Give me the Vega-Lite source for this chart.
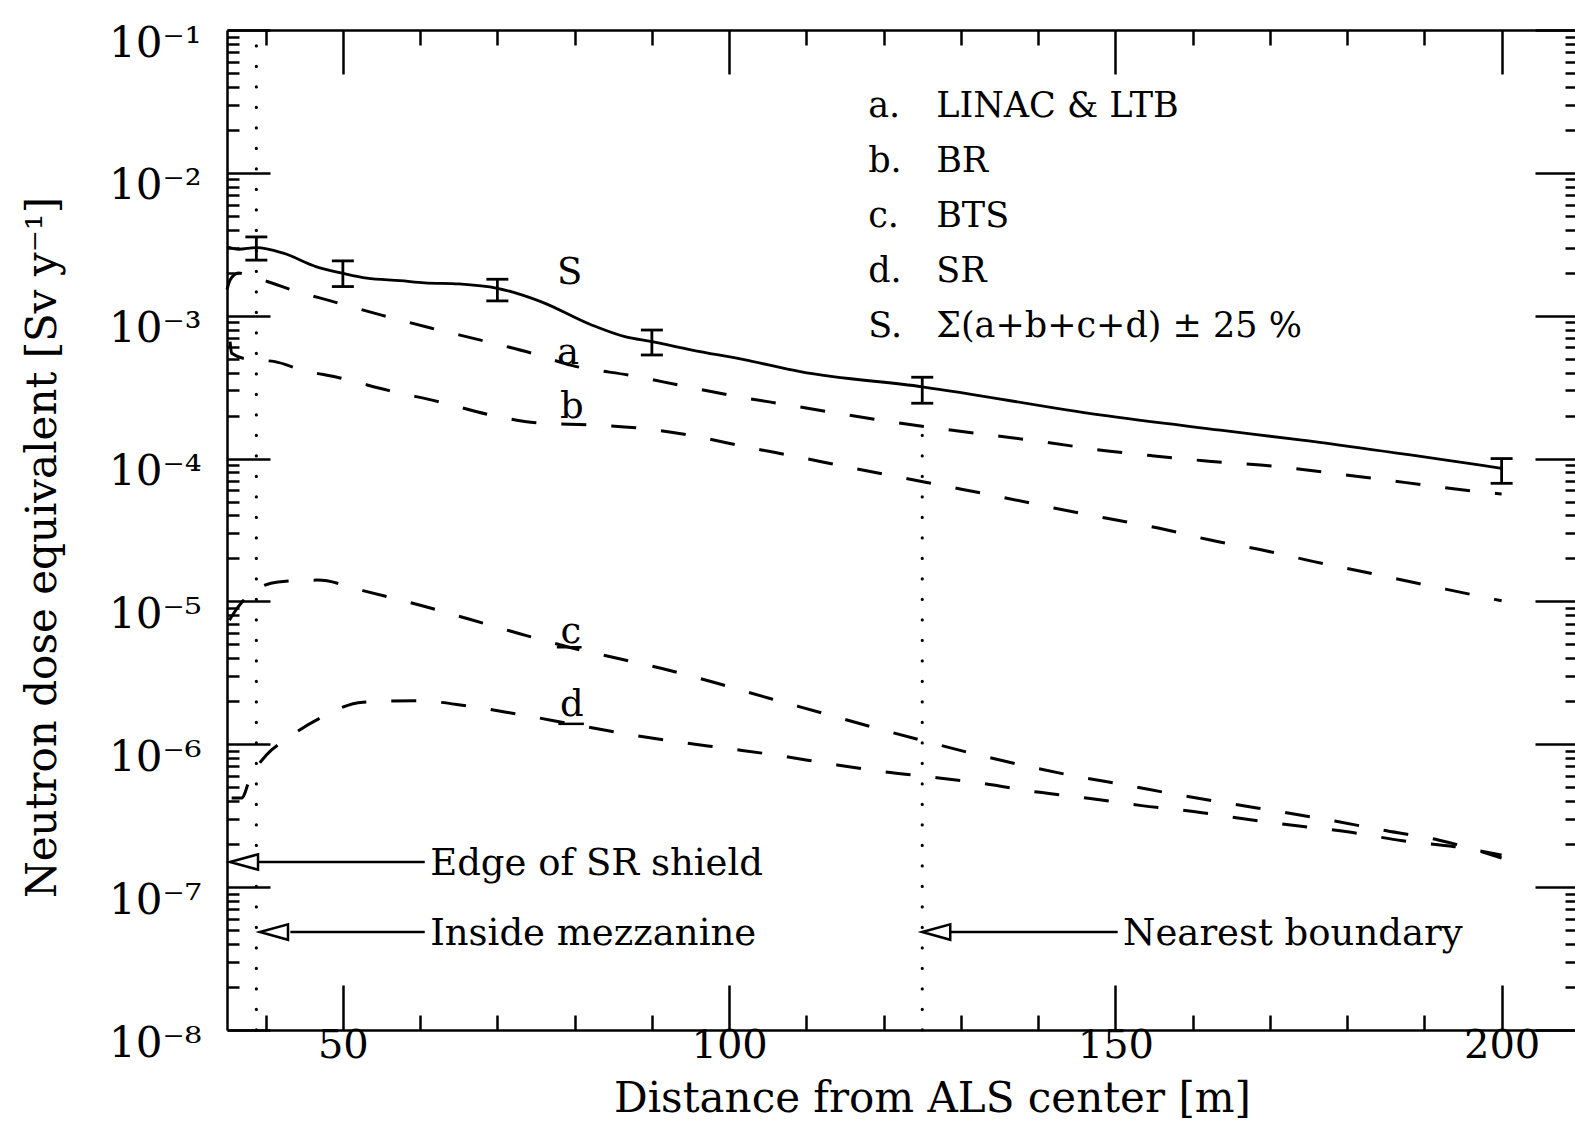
{
  "$schema": "https://vega.github.io/schema/vega-lite/v6.json",
  "width": 1348,
  "height": 1000,
  "autosize": {"type": "none"},
  "padding": {"left": 227, "top": 30, "right": 0, "bottom": 118},
  "background": "white",
  "config": {
    "view": {"stroke": null},
    "font": "DejaVu Serif",
    "axis": {
      "grid": false,
      "domainColor": "black",
      "tickColor": "black",
      "labelColor": "black",
      "titleColor": "black",
      "labelFont": "DejaVu Serif",
      "titleFont": "DejaVu Serif",
      "titleFontWeight": "normal",
      "domainWidth": 2.5,
      "tickWidth": 2.5,
      "labelFlush": false,
      "labelOverlap": false
    }
  },
  "datasets": {
    "S": [
      {"x": 35.0, "y": 0.00304}, {"x": 36.5, "y": 0.00292}, {"x": 38.8, "y": 0.0030},
      {"x": 42.3, "y": 0.00274}, {"x": 46.6, "y": 0.00220}, {"x": 50.0, "y": 0.00198},
      {"x": 53.1, "y": 0.00183}, {"x": 57.4, "y": 0.00176}, {"x": 60.6, "y": 0.00170},
      {"x": 65.0, "y": 0.00167}, {"x": 70.0, "y": 0.001556}, {"x": 75.7, "y": 0.00125},
      {"x": 82.2, "y": 0.000861}, {"x": 86.5, "y": 0.000713}, {"x": 90.0, "y": 0.000658},
      {"x": 95.2, "y": 0.000575}, {"x": 102.1, "y": 0.000490}, {"x": 109.2, "y": 0.000406},
      {"x": 125.0, "y": 0.000318}, {"x": 148.0, "y": 0.000202}, {"x": 163.6, "y": 0.000158},
      {"x": 173.9, "y": 0.000135}, {"x": 200.0, "y": 0.0000855}
    ],
    "curves": [
      {"series": "a", "x": 35.0, "y": 0.00152}, {"series": "a", "x": 35.4, "y": 0.00178},
      {"series": "a", "x": 36.5, "y": 0.00199}, {"series": "a", "x": 38.0, "y": 0.00188},
      {"series": "a", "x": 40.3, "y": 0.00173}, {"series": "a", "x": 43.5, "y": 0.00151},
      {"series": "a", "x": 48.4, "y": 0.00127}, {"series": "a", "x": 55.0, "y": 0.00101},
      {"series": "a", "x": 61.5, "y": 0.000817}, {"series": "a", "x": 68.1, "y": 0.000669},
      {"series": "a", "x": 74.5, "y": 0.000546}, {"series": "a", "x": 79.6, "y": 0.000449},
      {"series": "a", "x": 87.6, "y": 0.000379}, {"series": "a", "x": 94.2, "y": 0.000321},
      {"series": "a", "x": 101.0, "y": 0.000272}, {"series": "a", "x": 107.5, "y": 0.000238},
      {"series": "a", "x": 114.2, "y": 0.000207}, {"series": "a", "x": 121.0, "y": 0.000181},
      {"series": "a", "x": 127.7, "y": 0.000161}, {"series": "a", "x": 134.3, "y": 0.000145},
      {"series": "a", "x": 141.1, "y": 0.000130}, {"series": "a", "x": 147.9, "y": 0.000115},
      {"series": "a", "x": 154.6, "y": 0.000105}, {"series": "a", "x": 161.4, "y": 0.0000966},
      {"series": "a", "x": 168.8, "y": 0.0000901}, {"series": "a", "x": 181.7, "y": 0.0000747},
      {"series": "a", "x": 195.1, "y": 0.0000603}, {"series": "a", "x": 200.0, "y": 0.0000565},

      {"series": "b", "x": 35.4, "y": 0.000658}, {"series": "b", "x": 35.6, "y": 0.000546},
      {"series": "b", "x": 37.8, "y": 0.000495}, {"series": "b", "x": 41.2, "y": 0.000477},
      {"series": "b", "x": 44.7, "y": 0.000417}, {"series": "b", "x": 49.5, "y": 0.000368},
      {"series": "b", "x": 56.0, "y": 0.000299}, {"series": "b", "x": 62.7, "y": 0.000248},
      {"series": "b", "x": 69.1, "y": 0.000202}, {"series": "b", "x": 75.6, "y": 0.000177},
      {"series": "b", "x": 82.2, "y": 0.000172}, {"series": "b", "x": 89.0, "y": 0.000162},
      {"series": "b", "x": 95.7, "y": 0.000143}, {"series": "b", "x": 102.4, "y": 0.000120},
      {"series": "b", "x": 108.8, "y": 0.000103}, {"series": "b", "x": 115.5, "y": 0.0000869},
      {"series": "b", "x": 122.1, "y": 0.0000740}, {"series": "b", "x": 128.8, "y": 0.0000630},
      {"series": "b", "x": 135.4, "y": 0.0000536}, {"series": "b", "x": 142.2, "y": 0.0000449},
      {"series": "b", "x": 148.9, "y": 0.0000382}, {"series": "b", "x": 155.7, "y": 0.0000325},
      {"series": "b", "x": 162.3, "y": 0.0000269}, {"series": "b", "x": 169.0, "y": 0.0000229},
      {"series": "b", "x": 175.7, "y": 0.0000190}, {"series": "b", "x": 182.4, "y": 0.0000160},
      {"series": "b", "x": 189.1, "y": 0.0000134}, {"series": "b", "x": 195.7, "y": 0.0000113},
      {"series": "b", "x": 200.0, "y": 0.0000101},

      {"series": "c", "x": 35.3, "y": 0.0000074}, {"series": "c", "x": 36.4, "y": 0.0000091},
      {"series": "c", "x": 38.6, "y": 0.0000119}, {"series": "c", "x": 41.6, "y": 0.0000137},
      {"series": "c", "x": 46.7, "y": 0.0000141}, {"series": "c", "x": 52.6, "y": 0.0000119},
      {"series": "c", "x": 59.9, "y": 0.00000944}, {"series": "c", "x": 66.3, "y": 0.00000753},
      {"series": "c", "x": 72.9, "y": 0.00000594}, {"series": "c", "x": 79.3, "y": 0.00000478},
      {"series": "c", "x": 85.8, "y": 0.00000397}, {"series": "c", "x": 92.2, "y": 0.00000330},
      {"series": "c", "x": 98.8, "y": 0.00000264}, {"series": "c", "x": 105.3, "y": 0.00000209},
      {"series": "c", "x": 111.8, "y": 0.00000167}, {"series": "c", "x": 118.3, "y": 0.00000133},
      {"series": "c", "x": 124.8, "y": 0.00000107}, {"series": "c", "x": 131.4, "y": 0.000000865},
      {"series": "c", "x": 138.0, "y": 0.000000713}, {"series": "c", "x": 144.7, "y": 0.000000600},
      {"series": "c", "x": 151.5, "y": 0.000000516}, {"series": "c", "x": 158.2, "y": 0.000000442},
      {"series": "c", "x": 164.9, "y": 0.000000384}, {"series": "c", "x": 171.8, "y": 0.000000334},
      {"series": "c", "x": 178.4, "y": 0.000000290}, {"series": "c", "x": 185.1, "y": 0.000000248},
      {"series": "c", "x": 191.8, "y": 0.000000214}, {"series": "c", "x": 200.0, "y": 0.000000160},

      {"series": "d", "x": 35.6, "y": 0.000000421}, {"series": "d", "x": 36.9, "y": 0.000000421},
      {"series": "d", "x": 38.0, "y": 0.000000581}, {"series": "d", "x": 40.1, "y": 0.000000841},
      {"series": "d", "x": 42.5, "y": 0.00000107}, {"series": "d", "x": 46.8, "y": 0.00000150},
      {"series": "d", "x": 52.6, "y": 0.00000197}, {"series": "d", "x": 59.5, "y": 0.00000202},
      {"series": "d", "x": 66.0, "y": 0.00000186}, {"series": "d", "x": 72.5, "y": 0.00000163},
      {"series": "d", "x": 79.5, "y": 0.00000139}, {"series": "d", "x": 86.3, "y": 0.00000119},
      {"series": "d", "x": 92.8, "y": 0.00000105}, {"series": "d", "x": 99.6, "y": 0.000000937},
      {"series": "d", "x": 106.2, "y": 0.000000838}, {"series": "d", "x": 113.0, "y": 0.000000731},
      {"series": "d", "x": 119.6, "y": 0.000000647}, {"series": "d", "x": 126.4, "y": 0.000000588},
      {"series": "d", "x": 133.0, "y": 0.000000530}, {"series": "d", "x": 139.9, "y": 0.000000463},
      {"series": "d", "x": 146.5, "y": 0.000000419}, {"series": "d", "x": 153.4, "y": 0.000000372},
      {"series": "d", "x": 160.1, "y": 0.000000339}, {"series": "d", "x": 166.8, "y": 0.000000300},
      {"series": "d", "x": 173.5, "y": 0.000000269}, {"series": "d", "x": 180.5, "y": 0.000000242},
      {"series": "d", "x": 187.2, "y": 0.000000211}, {"series": "d", "x": 193.9, "y": 0.000000192},
      {"series": "d", "x": 200.0, "y": 0.000000168}
    ],
    "bars": [
      {"x": 38.8, "lo": 0.00245, "hi": 0.00356},
      {"x": 50.0, "lo": 0.00160, "hi": 0.00242},
      {"x": 70.0, "lo": 0.00127, "hi": 0.00180},
      {"x": 90.0, "lo": 0.000531, "hi": 0.000794},
      {"x": 125.0, "lo": 0.000244, "hi": 0.000371},
      {"x": 200.0, "lo": 0.0000671, "hi": 0.000100}
    ],
    "vlines": [
      {"x": 38.8, "y": 1e-8, "y2": 0.1},
      {"x": 125.0, "y": 1e-8, "y2": 0.00018}
    ],
    "arrows": [
      {"x": 39.0, "x2": 60.6, "y": 1.5e-7},
      {"x": 43.2, "x2": 60.6, "y": 4.85e-8},
      {"x": 128.6, "x2": 150.3, "y": 4.85e-8}
    ],
    "heads": [
      {"x": 35.39, "y": 1.5e-7},
      {"x": 39.27, "y": 4.85e-8},
      {"x": 125.0, "y": 4.85e-8}
    ],
    "notes": [
      {"x": 61.3, "y": 1.45e-7, "text": "Edge of SR shield"},
      {"x": 61.3, "y": 4.7e-8, "text": "Inside mezzanine"},
      {"x": 151.0, "y": 4.7e-8, "text": "Nearest boundary"}
    ],
    "legend": [
      {"x": 118.0, "y": 0.0296, "text": "a."},
      {"x": 118.0, "y": 0.0122, "text": "b."},
      {"x": 118.0, "y": 0.00499, "text": "c."},
      {"x": 118.0, "y": 0.00206, "text": "d."},
      {"x": 118.0, "y": 0.000841, "text": "S."},
      {"x": 126.8, "y": 0.0296, "text": "LINAC & LTB"},
      {"x": 126.8, "y": 0.0122, "text": "BR"},
      {"x": 126.8, "y": 0.00499, "text": "BTS"},
      {"x": 126.8, "y": 0.00206, "text": "SR"},
      {"x": 126.8, "y": 0.000841, "text": "Σ(a+b+c+d) ± 25 %"}
    ],
    "clabels": [
      {"x": 79.35, "y": 0.00199, "text": "S"},
      {"x": 79.15, "y": 0.000548, "text": "a"},
      {"x": 79.65, "y": 0.00023, "text": "b"},
      {"x": 79.5, "y": 0.0000061, "text": "c"},
      {"x": 79.65, "y": 0.00000188, "text": "d"}
    ],
    "underlines": [
      {"x": 77.7, "x2": 80.9, "y": 0.00000478},
      {"x": 77.9, "x2": 81.2, "y": 0.00000139}
    ]
  },
  "resolve": {"axis": {"x": "independent", "y": "independent"}},
  "layer": [
    {
      "data": {"name": "S"},
      "mark": {"type": "line", "color": "black", "strokeWidth": 2.8, "interpolate": "monotone"},
      "encoding": {
        "x": {
          "field": "x", "type": "quantitative",
          "scale": {"domain": [35, 209.5], "nice": false, "zero": false},
          "axis": {
            "orient": "bottom", "values": [50, 100, 150, 200], "ticks": false, "domain": true,
            "labelFontSize": 40, "labelPadding": -5,
            "title": "Distance from ALS center [m]", "titleFontSize": 42,
            "titleX": 705, "titleY": 68, "titleBaseline": "middle", "titleAlign": "center"
          }
        },
        "y": {
          "field": "y", "type": "quantitative",
          "scale": {"type": "log", "domain": [1e-8, 0.1], "nice": false},
          "axis": {
            "orient": "left", "values": [1e-8, 1e-7, 1e-6, 1e-5, 1e-4, 1e-3, 1e-2, 1e-1],
            "ticks": false, "domain": true,
            "labelExpr": "'10⁻' + ['⁰','¹','²','³','⁴','⁵','⁶','⁷','⁸','⁹'][round(-log(datum.value)/LN10)]",
            "labelFontSize": 42, "labelPadding": 26, "labelBaseline": "middle", "labelOffset": 13,
            "title": "Neutron dose equivalent [Sv y⁻¹]", "titleFontSize": 42,
            "titleX": -185, "titleY": 517, "titleAngle": -90, "titleBaseline": "middle", "titleAlign": "center"
          }
        }
      }
    },
    {
      "data": {"name": "curves"},
      "mark": {"type": "line", "color": "black", "strokeWidth": 3, "strokeDash": [25, 25], "interpolate": "monotone"},
      "encoding": {
        "detail": {"field": "series"},
        "x": {
          "field": "x", "type": "quantitative",
          "axis": {"orient": "bottom", "values": [50, 100, 150, 200], "labels": false, "domain": false, "tickSize": -45, "title": null}
        },
        "y": {
          "field": "y", "type": "quantitative",
          "axis": {"orient": "left", "values": [1e-8, 1e-7, 1e-6, 1e-5, 1e-4, 1e-3, 1e-2, 1e-1], "labels": false, "domain": false, "tickSize": -43, "title": null}
        }
      }
    },
    {
      "data": {"name": "bars"},
      "mark": {"type": "errorbar", "color": "black", "opacity": 1, "ticks": {"size": 22, "thickness": 2.8, "color": "black", "opacity": 1}, "rule": {"strokeWidth": 2.8, "color": "black", "opacity": 1}},
      "encoding": {
        "x": {"field": "x", "type": "quantitative", "axis": null},
        "y": {"field": "lo", "type": "quantitative", "axis": null},
        "y2": {"field": "hi"}
      }
    },
    {
      "data": {"name": "vlines"},
      "mark": {"type": "rule", "color": "black", "strokeWidth": 3.2, "strokeDash": [0.1, 20.4], "strokeCap": "round"},
      "encoding": {
        "x": {
          "field": "x", "type": "quantitative",
          "axis": {"orient": "top", "values": [50, 100, 150, 200], "labels": false, "domain": true, "tickSize": -44, "title": null}
        },
        "y": {
          "field": "y", "type": "quantitative",
          "axis": {"orient": "right", "values": [1e-8, 1e-7, 1e-6, 1e-5, 1e-4, 1e-3, 1e-2, 1e-1], "labels": false, "domain": false, "tickSize": -40, "title": null}
        },
        "y2": {"field": "y2"}
      }
    },
    {
      "data": {"name": "arrows"},
      "mark": {"type": "rule", "color": "black", "strokeWidth": 2.5},
      "encoding": {
        "x": {
          "field": "x", "type": "quantitative",
          "axis": {"orient": "top", "values": [40, 60, 70, 80, 90, 110, 120, 130, 140, 160, 170, 180, 190], "labels": false, "domain": false, "tickSize": -15, "title": null}
        },
        "x2": {"field": "x2"},
        "y": {
          "field": "y", "type": "quantitative",
          "axis": {"orient": "right", "values": [2e-8,3e-8,4e-8,5e-8,6e-8,7e-8,8e-8,9e-8,2e-7,3e-7,4e-7,5e-7,6e-7,7e-7,8e-7,9e-7,2e-6,3e-6,4e-6,5e-6,6e-6,7e-6,8e-6,9e-6,2e-5,3e-5,4e-5,5e-5,6e-5,7e-5,8e-5,9e-5,2e-4,3e-4,4e-4,5e-4,6e-4,7e-4,8e-4,9e-4,2e-3,3e-3,4e-3,5e-3,6e-3,7e-3,8e-3,9e-3,2e-2,3e-2,4e-2,5e-2,6e-2,7e-2,8e-2,9e-2], "labels": false, "domain": false, "tickSize": -10, "title": null}
        }
      }
    },
    {
      "data": {"name": "heads"},
      "mark": {"type": "point", "shape": "M0,0 L2,-0.55 L2,0.55 Z", "size": 784, "filled": true, "fill": "white", "stroke": "black", "strokeWidth": 2.5, "opacity": 1},
      "encoding": {
        "x": {
          "field": "x", "type": "quantitative",
          "axis": {"orient": "bottom", "values": [40, 60, 70, 80, 90, 110, 120, 130, 140, 160, 170, 180, 190], "labels": false, "domain": false, "tickSize": -15, "title": null}
        },
        "y": {
          "field": "y", "type": "quantitative",
          "axis": {"orient": "left", "values": [2e-8,3e-8,4e-8,5e-8,6e-8,7e-8,8e-8,9e-8,2e-7,3e-7,4e-7,5e-7,6e-7,7e-7,8e-7,9e-7,2e-6,3e-6,4e-6,5e-6,6e-6,7e-6,8e-6,9e-6,2e-5,3e-5,4e-5,5e-5,6e-5,7e-5,8e-5,9e-5,2e-4,3e-4,4e-4,5e-4,6e-4,7e-4,8e-4,9e-4,2e-3,3e-3,4e-3,5e-3,6e-3,7e-3,8e-3,9e-3,2e-2,3e-2,4e-2,5e-2,6e-2,7e-2,8e-2,9e-2], "labels": false, "domain": false, "tickSize": -12, "title": null}
        }
      }
    },
    {
      "data": {"name": "notes"},
      "mark": {"type": "text", "align": "left", "baseline": "middle", "font": "DejaVu Serif", "fontSize": 37, "color": "black"},
      "encoding": {
        "x": {"field": "x", "type": "quantitative", "axis": null},
        "y": {"field": "y", "type": "quantitative", "axis": null},
        "text": {"field": "text"}
      }
    },
    {
      "data": {"name": "legend"},
      "mark": {"type": "text", "align": "left", "baseline": "middle", "font": "DejaVu Serif", "fontSize": 35, "color": "black"},
      "encoding": {
        "x": {"field": "x", "type": "quantitative", "axis": null},
        "y": {"field": "y", "type": "quantitative", "axis": null},
        "text": {"field": "text"}
      }
    },
    {
      "data": {"name": "clabels"},
      "mark": {"type": "text", "align": "center", "baseline": "middle", "font": "DejaVu Serif", "fontSize": 37, "color": "black"},
      "encoding": {
        "x": {"field": "x", "type": "quantitative", "axis": null},
        "y": {"field": "y", "type": "quantitative", "axis": null},
        "text": {"field": "text"}
      }
    },
    {
      "data": {"name": "underlines"},
      "mark": {"type": "rule", "color": "black", "strokeWidth": 2.5},
      "encoding": {
        "x": {"field": "x", "type": "quantitative", "axis": null},
        "x2": {"field": "x2"},
        "y": {"field": "y", "type": "quantitative", "axis": null}
      }
    }
  ]
}
